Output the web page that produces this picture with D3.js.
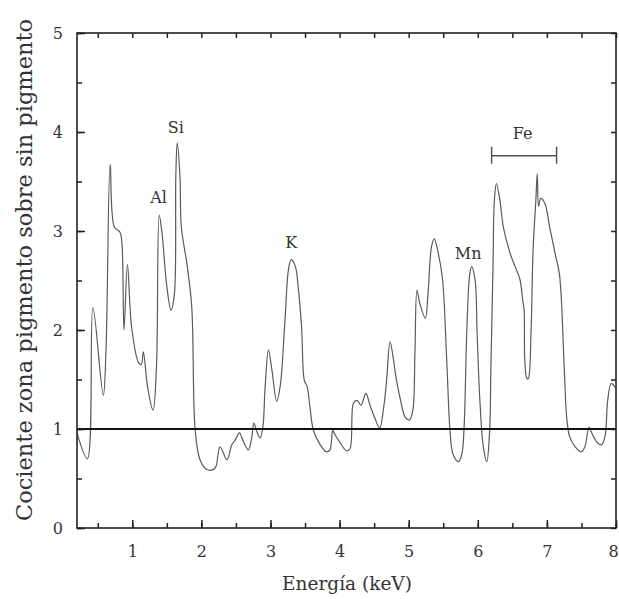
<!DOCTYPE html>
<html><head><meta charset="utf-8">
<script src="https://cdn.jsdelivr.net/npm/d3@7"></script>
<style>
body{margin:0;background:#fff;}
svg{display:block;}
text{font-family:"DejaVu Serif",serif;fill:#333;}
</style></head><body>
<svg id="c" width="619" height="599"></svg>
<script>
const energy = [0.20,0.35,0.43,0.58,0.62,0.68,0.74,0.82,0.85,0.88,0.93,0.99,1.09,1.13,1.16,1.22,1.30,1.35,1.39,1.43,1.50,1.56,1.61,1.63,1.65,1.69,1.71,1.79,1.86,1.91,1.98,2.08,2.17,2.21,2.27,2.37,2.44,2.49,2.55,2.61,2.68,2.73,2.76,2.81,2.85,2.89,2.92,2.97,3.02,3.09,3.14,3.21,3.26,3.30,3.36,3.40,3.45,3.49,3.53,3.57,3.62,3.72,3.81,3.86,3.90,3.92,4.01,4.10,4.15,4.20,4.25,4.31,4.38,4.44,4.51,4.58,4.64,4.68,4.73,4.78,4.81,4.87,4.95,5.01,5.06,5.09,5.12,5.16,5.24,5.28,5.33,5.37,5.43,5.49,5.55,5.60,5.64,5.72,5.77,5.80,5.84,5.88,5.91,5.96,5.99,6.03,6.08,6.13,6.17,6.19,6.22,6.24,6.27,6.32,6.37,6.47,6.54,6.61,6.65,6.67,6.68,6.71,6.73,6.77,6.80,6.84,6.86,6.88,6.91,6.97,7.04,7.12,7.18,7.21,7.25,7.29,7.33,7.41,7.50,7.55,7.61,7.65,7.72,7.79,7.84,7.88,7.93,7.98,8.00];
const ratio  = [0.96,0.70,2.23,1.34,1.80,3.67,3.04,2.99,2.88,2.00,2.66,2.03,1.67,1.65,1.78,1.43,1.19,1.63,3.16,2.98,2.44,2.20,2.37,3.55,3.89,3.55,3.04,2.67,2.24,0.99,0.69,0.59,0.59,0.62,0.82,0.69,0.84,0.89,0.96,0.87,0.79,0.92,1.06,0.96,0.91,1.02,1.39,1.80,1.60,1.28,1.43,2.10,2.61,2.71,2.64,2.44,2.03,1.49,1.43,1.23,0.99,0.84,0.77,0.79,0.99,0.96,0.86,0.78,0.80,1.26,1.29,1.24,1.36,1.24,1.11,1.01,1.23,1.49,1.88,1.70,1.55,1.33,1.12,1.09,1.19,1.76,2.40,2.27,2.12,2.37,2.84,2.92,2.77,2.51,1.70,0.96,0.75,0.67,0.75,0.99,1.97,2.54,2.64,2.51,1.97,1.29,0.82,0.67,0.96,1.63,2.64,3.31,3.48,3.31,3.04,2.77,2.64,2.51,2.30,2.20,1.70,1.51,1.51,1.97,2.81,3.31,3.58,3.25,3.33,3.28,3.04,2.77,2.57,2.30,1.63,1.09,0.92,0.82,0.77,0.82,1.02,0.96,0.87,0.84,0.92,1.29,1.46,1.43,1.42];
const xTicks = [1,2,3,4,5,6,7,8];
const yTicks = [0,1,2,3,4,5];
const labels = [
  {text:"Si", x:1.63, y:3.99},
  {text:"Al", x:1.38, y:3.28},
  {text:"K",  x:3.30, y:2.83},
  {text:"Mn", x:5.86, y:2.72},
  {text:"Fe", x:6.65, y:3.93}
];
const feRange = [6.20, 7.14];
const feY = 3.76;
const refLevel = 1;

const svg = d3.select("#c");
const L = 77, R = 616, T = 33, B = 528;
const x = d3.scaleLinear().domain([0.2, 8]).range([L, R]);
const y = d3.scaleLinear().domain([0, 5]).range([B, T]);

svg.append("clipPath").attr("id","clip").append("rect")
  .attr("x",L).attr("y",T).attr("width",R-L).attr("height",B-T);

// data line
const line = d3.line().x((d,i)=>x(energy[i])).y((d,i)=>y(ratio[i])).curve(d3.curveCatmullRom.alpha(0.5));
svg.append("path").datum(ratio).attr("d", line)
  .attr("fill","none").attr("stroke","#5a5a5a").attr("stroke-width",1.2)
  .attr("clip-path","url(#clip)");

// reference line
svg.append("line").attr("x1",L).attr("x2",R).attr("y1",y(refLevel)).attr("y2",y(refLevel))
  .attr("stroke","#111").attr("stroke-width",2.2);

// axes
const minorX = d3.range(0.5, 8.01, 0.5);
const minorY = d3.range(0, 5.01, 0.5);
const ax = d3.axisBottom(x).tickValues(minorX).tickSizeInner(-5).tickSizeOuter(0).tickFormat("");
const axMajor = d3.axisBottom(x).tickValues(xTicks).tickSizeInner(-8).tickSizeOuter(0).tickPadding(18).tickFormat(d3.format("d"));
const gB = svg.append("g").attr("transform",`translate(0,${B})`);
gB.call(ax); 
const gB2 = svg.append("g").attr("transform",`translate(0,${B})`).call(axMajor);
const gT = svg.append("g").attr("transform",`translate(0,${T})`).call(d3.axisTop(x).tickValues(minorX).tickSizeInner(-5).tickSizeOuter(0).tickFormat(""));
const gL = svg.append("g").attr("transform",`translate(${L},0)`).call(d3.axisLeft(y).tickValues(minorY).tickSizeInner(-5).tickSizeOuter(0).tickFormat(""));
const gL2 = svg.append("g").attr("transform",`translate(${L},0)`).call(d3.axisLeft(y).tickValues(yTicks).tickSizeInner(-8).tickSizeOuter(0).tickPadding(14).tickFormat(d3.format("d")));
const gR = svg.append("g").attr("transform",`translate(${R},0)`).call(d3.axisRight(y).tickValues(minorY).tickSizeInner(-5).tickSizeOuter(0).tickFormat(""));
[gB,gB2,gT,gL,gL2,gR].forEach(g=>{
  g.select(".domain").remove();
  g.selectAll(".tick line").attr("stroke","#222").attr("stroke-width",1.5);
  g.selectAll(".tick text").attr("font-family","DejaVu Serif").attr("font-size",16).attr("fill","#333");
});
// keep the last x label inside the window
gB2.selectAll(".tick text").filter(d=>d===8).attr("dx",-3);
// frame
svg.append("rect").attr("x",L).attr("y",T).attr("width",R-L).attr("height",B-T)
  .attr("fill","none").attr("stroke","#222").attr("stroke-width",1.6);

// annotations
svg.selectAll("text.ann").data(labels).join("text").attr("class","ann")
  .attr("x",d=>x(d.x)).attr("y",d=>y(d.y)).attr("text-anchor","middle")
  .attr("font-size",16).attr("fill","#222").text(d=>d.text);
const fe = svg.append("g").attr("stroke","#555").attr("stroke-width",1.5);
fe.append("line").attr("x1",x(feRange[0])).attr("x2",x(feRange[1])).attr("y1",y(feY)).attr("y2",y(feY));
feRange.forEach(v=>fe.append("line").attr("x1",x(v)).attr("x2",x(v)).attr("y1",y(feY)-9).attr("y2",y(feY)+8));

// titles
svg.append("text").attr("x",347).attr("y",590).attr("text-anchor","middle")
  .attr("font-size",18.5).attr("fill","#444").text("Energía (keV)");
svg.append("text").attr("transform","translate(32,270) rotate(-90)").attr("text-anchor","middle")
  .attr("font-size",22.5).attr("fill","#444").text("Cociente zona pigmento sobre sin pigmento");
</script></body></html>
